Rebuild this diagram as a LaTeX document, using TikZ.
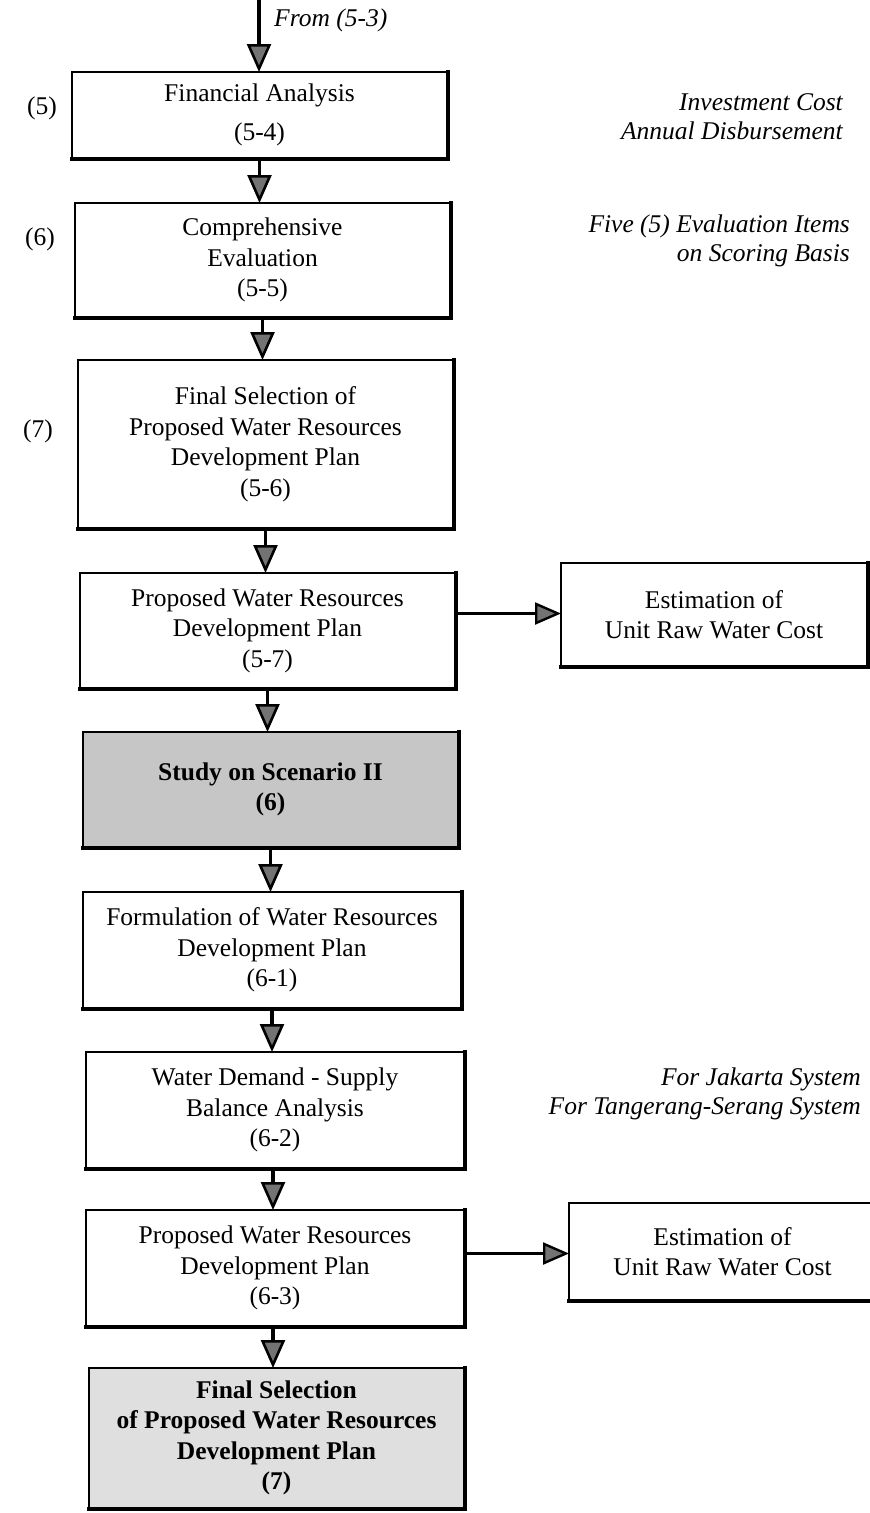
\documentclass[tikz,border=0pt]{standalone}
\usepackage{fontspec}
\setmainfont{Liberation Serif}
\usetikzlibrary{arrows.meta}

% a process box with a heavy rim on its right and bottom sides
% #1 name, #2 left, #3 top, #4 right, #5 bottom, #6 style, #7 text
\newcommand\flowbox[7]{%
  \node[#6, minimum width={#4-#2}, minimum height={#5-#3}] (#1)
    at ({(#2+#4)/2},{(#3+#5)/2}) {#7};
  \draw[rimline] ([xshift=1.3pt]#1.north east)
    -- ([xshift=1.3pt,yshift=-1.3pt]#1.south east)
    -- ([yshift=-1.3pt]#1.south west);
}

\begin{document}
\begin{tikzpicture}[x=1pt,y=-1pt,
  bodyfont/.style={font=\fontsize{25.5}{30.5}\selectfont},
  procbox/.style={draw=black, line width=1.4pt, fill=white, inner sep=0pt,
    outer sep=0pt, align=center, bodyfont},
  keybox/.style={procbox, fill=gray!45,
    font=\fontsize{25.5}{30.5}\selectfont\bfseries},
  lastbox/.style={keybox, fill=gray!25},
  rimline/.style={line width=4pt, line cap=rect},
  flow/.style={line width=3.6pt,
    -{Triangle[width=24pt,length=28pt,line width=2.6pt,fill=black!55]}},
  sideflow/.style={line width=2.6pt,
    -{Triangle[width=22pt,length=26pt,line width=2.4pt,fill=black!55]}},
  stagelabel/.style={font=\fontsize{25.5}{30.5}\selectfont},
  note/.style={font=\fontsize{25.5}{29}\selectfont\itshape, align=right,
    anchor=east, inner sep=0pt},
]
\fill[white] (0,0) rectangle (870,1513);
\clip (0,0) rectangle (870,1513);

% main column
\flowbox{fa}{72}{72}{447}{158}{procbox}{Financial Analysis\\[9pt](5-4)}
\flowbox{ce}{75}{203}{450}{317}{procbox}{Comprehensive\\Evaluation\\(5-5)}
\flowbox{fs}{78}{360}{453}{528}{procbox}{Final Selection of\\Proposed Water Resources\\Development Plan\\(5-6)}
\flowbox{pa}{80}{573}{455}{688}{procbox}{Proposed Water Resources\\Development Plan\\(5-7)}
\flowbox{sc}{83}{732}{458}{847}{keybox}{Study on Scenario II\\(6)}
\flowbox{fo}{83}{892}{461}{1008}{procbox}{Formulation of Water Resources\\Development Plan\\(6-1)}
\flowbox{wd}{86}{1052}{464}{1168}{procbox}{Water Demand - Supply\\Balance Analysis\\(6-2)}
\flowbox{pb}{86}{1210}{464}{1326}{procbox}{Proposed Water Resources\\Development Plan\\(6-3)}
\flowbox{fin}{89}{1368}{464}{1508}{lastbox}{Final Selection\\of Proposed Water Resources\\Development Plan\\(7)}

% side boxes
\flowbox{ea}{561}{563}{867}{666}{procbox}{Estimation of\\Unit Raw Water Cost}
\flowbox{eb}{569}{1203}{876}{1300}{procbox}{Estimation of\\Unit Raw Water Cost}

% connectors
\coordinate (src) at (259,0);
\draw[flow] (src) -- (src |- fa.north);
\draw[flow] (fa.south) -- (fa.south |- ce.north);
\draw[flow] (ce.south) -- (ce.south |- fs.north);
\draw[flow] (fs.south) -- (fs.south |- pa.north);
\draw[flow] (pa.south) -- (pa.south |- sc.north);
\draw[flow] (sc.south) -- (sc.south |- fo.north);
\draw[flow] (fo.south) -- (fo.south |- wd.north);
\draw[flow] ([xshift=-2pt]wd.south) -- ([xshift=-2pt]wd.south |- pb.north);
\draw[flow] ([xshift=-2pt]pb.south) -- ([xshift=-2pt]pb.south |- fin.north);
\draw[sideflow] ([yshift=1pt]pa.east |- ea.west) -- ([yshift=1pt]ea.west);
\draw[sideflow] ([yshift=-2pt]pb.east |- eb.west) -- ([yshift=-2pt]eb.west);

% labels
\node[note, anchor=west] (from) at (274,20) {From (5-3)};
\node[stagelabel] (s5) at (42,108) {(5)};
\node[stagelabel] (s6) at (40,239) {(6)};
\node[stagelabel] (s7) at (38,431) {(7)};
\node[note] (cost) at (843,117) {Investment Cost\\Annual Disbursement};
\node[note] (items) at (850,241) {Five (5) Evaluation Items\\on Scoring Basis};
\node[note] (sys) at (861,1094) {For Jakarta System\\For Tangerang-Serang System};
\end{tikzpicture}
\end{document}
